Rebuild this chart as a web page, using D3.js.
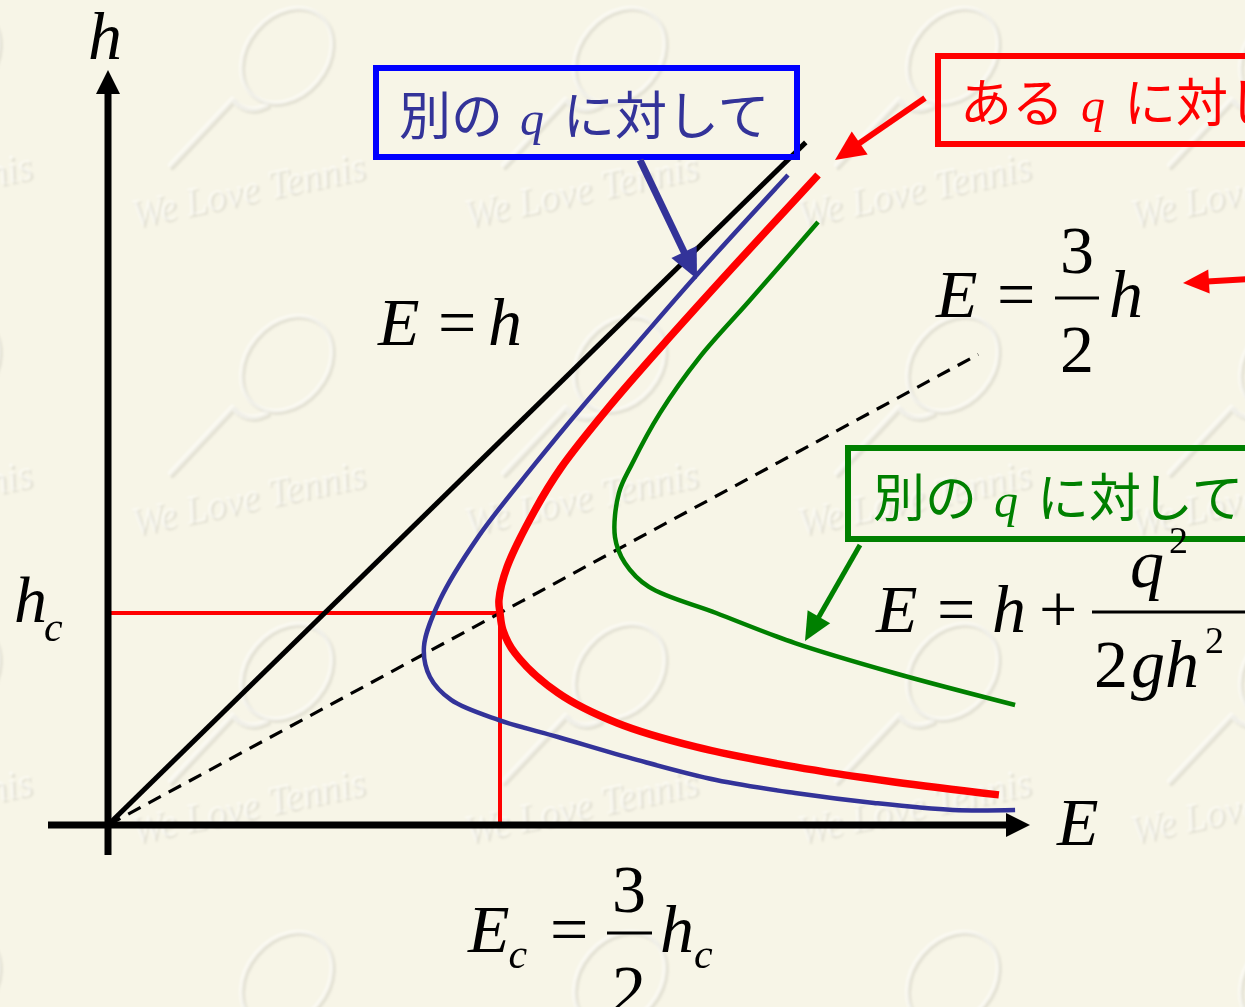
<!DOCTYPE html>
<html>
<head>
<meta charset="utf-8">
<script src="https://cdn.jsdelivr.net/npm/d3@7"></script>
<style>
  html, body { margin: 0; padding: 0; background: #f7f5e7; }
  svg { display: block; }
</style>
</head>
<body>
<svg id="chart" width="1245" height="1007"></svg>
<script>
// Specific energy diagram: depth h against specific energy E,
// in units where the critical depth h_c = 1 and E_c = 3/2.

const criticalPoint = [1.5, 1.0];            // [E_c, h_c]
const lineEqualsH   = [[0, 0], [2.67, 3.22]]; // E = h
const lineCritical  = [[0, 0], [3.33, 2.22]]; // E = 3/2 h

// E–h curve for the chosen discharge q (red)
const curveSomeQ = [
  [2.717, 3.066], [2.392, 2.632], [2.116, 2.255], [1.917, 1.972],
  [1.733, 1.684], [1.634, 1.486], [1.527, 1.217], [1.496, 1.061],
  [1.500, 1.000], [1.511, 0.920], [1.557, 0.811], [1.722, 0.623],
  [1.948, 0.481], [2.250, 0.368], [2.629, 0.274], [3.008, 0.203],
  [3.409, 0.142]
];

// smaller discharge (blue)
const curveSmallerQ = [
  [2.602, 3.066], [2.246, 2.585], [2.013, 2.255], [1.814, 1.972],
  [1.634, 1.703], [1.416, 1.358], [1.270, 1.061], [1.209, 0.840],
  [1.232, 0.698], [1.313, 0.590], [1.496, 0.495], [1.722, 0.415],
  [2.024, 0.307], [2.327, 0.212], [2.629, 0.151], [2.931, 0.104],
  [3.233, 0.071], [3.471, 0.071]
];

// larger discharge (green)
const curveLargerQ = [
  [2.717, 2.844], [2.457, 2.476], [2.265, 2.208], [2.112, 1.943],
  [2.005, 1.703], [1.955, 1.566], [1.940, 1.358], [1.978, 1.236],
  [2.070, 1.123], [2.327, 1.000], [2.629, 0.858], [3.008, 0.717],
  [3.471, 0.566]
];

const svg = d3.select("#chart");
const W = 1245, H = 1007;

const x = d3.scaleLinear().domain([0, 1.5]).range([108, 500]);
const y = d3.scaleLinear().domain([0, 1]).range([825, 613]);

const MATH = "'Liberation Serif', 'Times New Roman', 'DejaVu Serif', serif";
const JP = "'Noto Sans CJK JP', 'Noto Sans', sans-serif";

// ---------- paper background with embossed watermark ----------
svg.append("rect").attr("width", W).attr("height", H).attr("fill", "#f7f5e7");

const defs = svg.append("defs");
defs.append("filter").attr("id", "soft")
  .append("feGaussianBlur").attr("stdDeviation", 1.2);

const wm = svg.append("g").attr("filter", "url(#soft)");
function watermark(tx, ty, dx, dy, col, op) {
  const g = wm.append("g").attr("transform", `translate(${tx + dx},${ty + dy})`).attr("opacity", op);
  g.append("ellipse")
    .attr("transform", "translate(152,-172) rotate(40)")
    .attr("rx", 40).attr("ry", 52)
    .attr("fill", "none").attr("stroke", col).attr("stroke-width", 4);
  g.append("path")
    .attr("d", "M98,-128 Q112,-112 132,-122 M98,-128 L36,-62")
    .attr("fill", "none").attr("stroke", col).attr("stroke-width", 5).attr("stroke-linecap", "round");
  g.append("text")
    .attr("transform", "rotate(-12)")
    .style("font-family", MATH).attr("font-style", "italic").attr("font-size", 40)
    .attr("textLength", 238).attr("lengthAdjust", "spacingAndGlyphs")
    .attr("fill", col)
    .text("We Love Tennis");
}
for (let i = -1; i <= 3; i++) {
  for (let j = 0; j <= 3; j++) {
    const tx = 135 + 333 * i, ty = 228 + 308 * j;
    watermark(tx, ty, 1.5, 1.5, "#bdbaae", 0.32);
    watermark(tx, ty, -1, -1, "#ffffff", 0.45);
  }
}

// ---------- lines and curves ----------
const plot = svg.append("g");
const line = d3.line().x(d => x(d[0])).y(d => y(d[1]));
const smooth = d3.line().x(d => x(d[0])).y(d => y(d[1])).curve(d3.curveCatmullRom.alpha(0.5));

// critical depth and critical energy guides
plot.append("path")
  .attr("d", line([[0, criticalPoint[1]], criticalPoint, [criticalPoint[0], 0]]))
  .attr("fill", "none").attr("stroke", "#ff0000").attr("stroke-width", 4);

plot.append("path").attr("d", line(lineEqualsH))
  .attr("fill", "none").attr("stroke", "#000").attr("stroke-width", 5);

plot.append("path").attr("d", line(lineCritical))
  .attr("fill", "none").attr("stroke", "#000").attr("stroke-width", 3.2)
  .attr("stroke-dasharray", "14,9");

plot.append("path").attr("d", smooth(curveSmallerQ))
  .attr("fill", "none").attr("stroke", "#333399").attr("stroke-width", 4.5);
plot.append("path").attr("d", smooth(curveLargerQ))
  .attr("fill", "none").attr("stroke", "#008000").attr("stroke-width", 4.5);
plot.append("path").attr("d", smooth(curveSomeQ))
  .attr("fill", "none").attr("stroke", "#ff0000").attr("stroke-width", 7.5);

// ---------- arrows ----------
const ann = svg.append("g");
function arrow(x1, y1, x2, y2, color, w, hl, hw) {
  const dx = x2 - x1, dy = y2 - y1, L = Math.hypot(dx, dy);
  const ux = dx / L, uy = dy / L;
  const bx = x2 - ux * hl, by = y2 - uy * hl;
  ann.append("line")
    .attr("x1", x1).attr("y1", y1).attr("x2", bx + ux * 2).attr("y2", by + uy * 2)
    .attr("stroke", color).attr("stroke-width", w);
  ann.append("path")
    .attr("d", `M${x2},${y2}L${bx - uy * hw},${by + ux * hw}L${bx + uy * hw},${by - ux * hw}Z`)
    .attr("fill", color);
}

// axes
arrow(x(0), 855, x(0), 70, "#000", 7, 24, 12);
arrow(48, y(0), 1030, y(0), "#000", 7, 24, 12);

// ---------- callout boxes ----------
function box(x0, y0, w, h, color) {
  ann.append("rect").attr("x", x0).attr("y", y0).attr("width", w).attr("height", h)
    .attr("fill", "none").attr("stroke", color).attr("stroke-width", 6);
}
box(376, 68, 421, 89, "#0000ff");
box(938, 56, 340, 88, "#ff0000");
box(848, 448, 420, 91, "#008000");

arrow(640, 160, 697, 279, "#333399", 7, 30, 14);
arrow(925, 98, 835, 160, "#ff0000", 6, 30, 14);
arrow(860, 545, 805, 641, "#008000", 5, 28, 13);
arrow(1250, 279, 1183, 283, "#ff0000", 6, 26, 12);

// ---------- text ----------
const txt = svg.append("g");
function t(xp, yp, s, o = {}) {
  return txt.append("text")
    .attr("x", xp).attr("y", yp)
    .style("font-family", o.family || MATH)
    .attr("font-size", o.size || 68)
    .attr("font-style", o.italic ? "italic" : "normal")
    .attr("text-anchor", o.anchor || "start")
    .attr("fill", o.fill || "#000")
    .text(s);
}
// a symbol followed by a raised or lowered small script
function scripted(xp, yp, base, script, o = {}) {
  const el = txt.append("text")
    .attr("x", xp).attr("y", yp)
    .style("font-family", MATH)
    .attr("font-size", o.size || 68)
    .attr("fill", "#000");
  el.append("tspan").attr("font-style", o.upright ? "normal" : "italic").text(base);
  el.append("tspan")
    .attr("font-size", o.ssize || 42)
    .attr("font-style", o.supUpright ? "normal" : "italic")
    .attr("dx", o.sdx || 0).attr("dy", o.sdy || 17)
    .text(script);
  return el;
}

// callout captions: "<kana> q に対して"
function caption(x0, base, lead, color) {
  t(x0, base, lead, { family: JP, size: 52, fill: color });
  t(x0 + 121, base, "q", { size: 48, italic: true, fill: color });
  t(x0 + 164, base, "に対して", { family: JP, size: 52, fill: color });
}
caption(399, 135, "別の", "#333399");
caption(960, 122, "ある", "#ff0000");
caption(873, 517, "別の", "#008000");

// axis labels
t(88, 59, "h", { italic: true });
t(1057, 845, "E", { italic: true });
scripted(14, 622, "h", "c", { size: 66, sdx: -3, sdy: 19 });

// E = h
t(378, 345, "E", { italic: true });
t(438, 345, "=");
t(488, 345, "h", { italic: true });

// E = 3/2 h
t(936, 317, "E", { italic: true });
t(997, 317, "=");
txt.append("line").attr("x1", 1055).attr("x2", 1099).attr("y1", 298).attr("y2", 298)
  .attr("stroke", "#000").attr("stroke-width", 3);
t(1077, 273, "3", { anchor: "middle" });
t(1077, 372, "2", { anchor: "middle" });
t(1109, 317, "h", { italic: true });

// E = h + q^2 / (2 g h^2)
t(876, 632, "E", { italic: true });
t(937, 632, "=");
t(992, 632, "h", { italic: true });
t(1039, 632, "+");
txt.append("line").attr("x1", 1092).attr("x2", 1250).attr("y1", 612).attr("y2", 612)
  .attr("stroke", "#000").attr("stroke-width", 3);
scripted(1130, 587, "q", "2", { ssize: 38, sdx: 5, sdy: -34, supUpright: true });
const den = txt.append("text").attr("x", 1094).attr("y", 687)
  .style("font-family", MATH).attr("font-size", 68).attr("fill", "#000");
den.append("tspan").text("2");
den.append("tspan").attr("font-style", "italic").attr("dx", 3).text("gh");
den.append("tspan").attr("font-size", 38).attr("dx", 6).attr("dy", -34).text("2");

// E_c = 3/2 h_c
scripted(468, 952, "E", "c", { sdx: -1, sdy: 16 });
t(550, 952, "=");
txt.append("line").attr("x1", 607).attr("x2", 652).attr("y1", 933).attr("y2", 933)
  .attr("stroke", "#000").attr("stroke-width", 3);
t(629, 912, "3", { anchor: "middle" });
t(629, 1012, "2", { anchor: "middle" });
scripted(660, 952, "h", "c", { sdx: 0, sdy: 16 });
</script>
</body>
</html>
